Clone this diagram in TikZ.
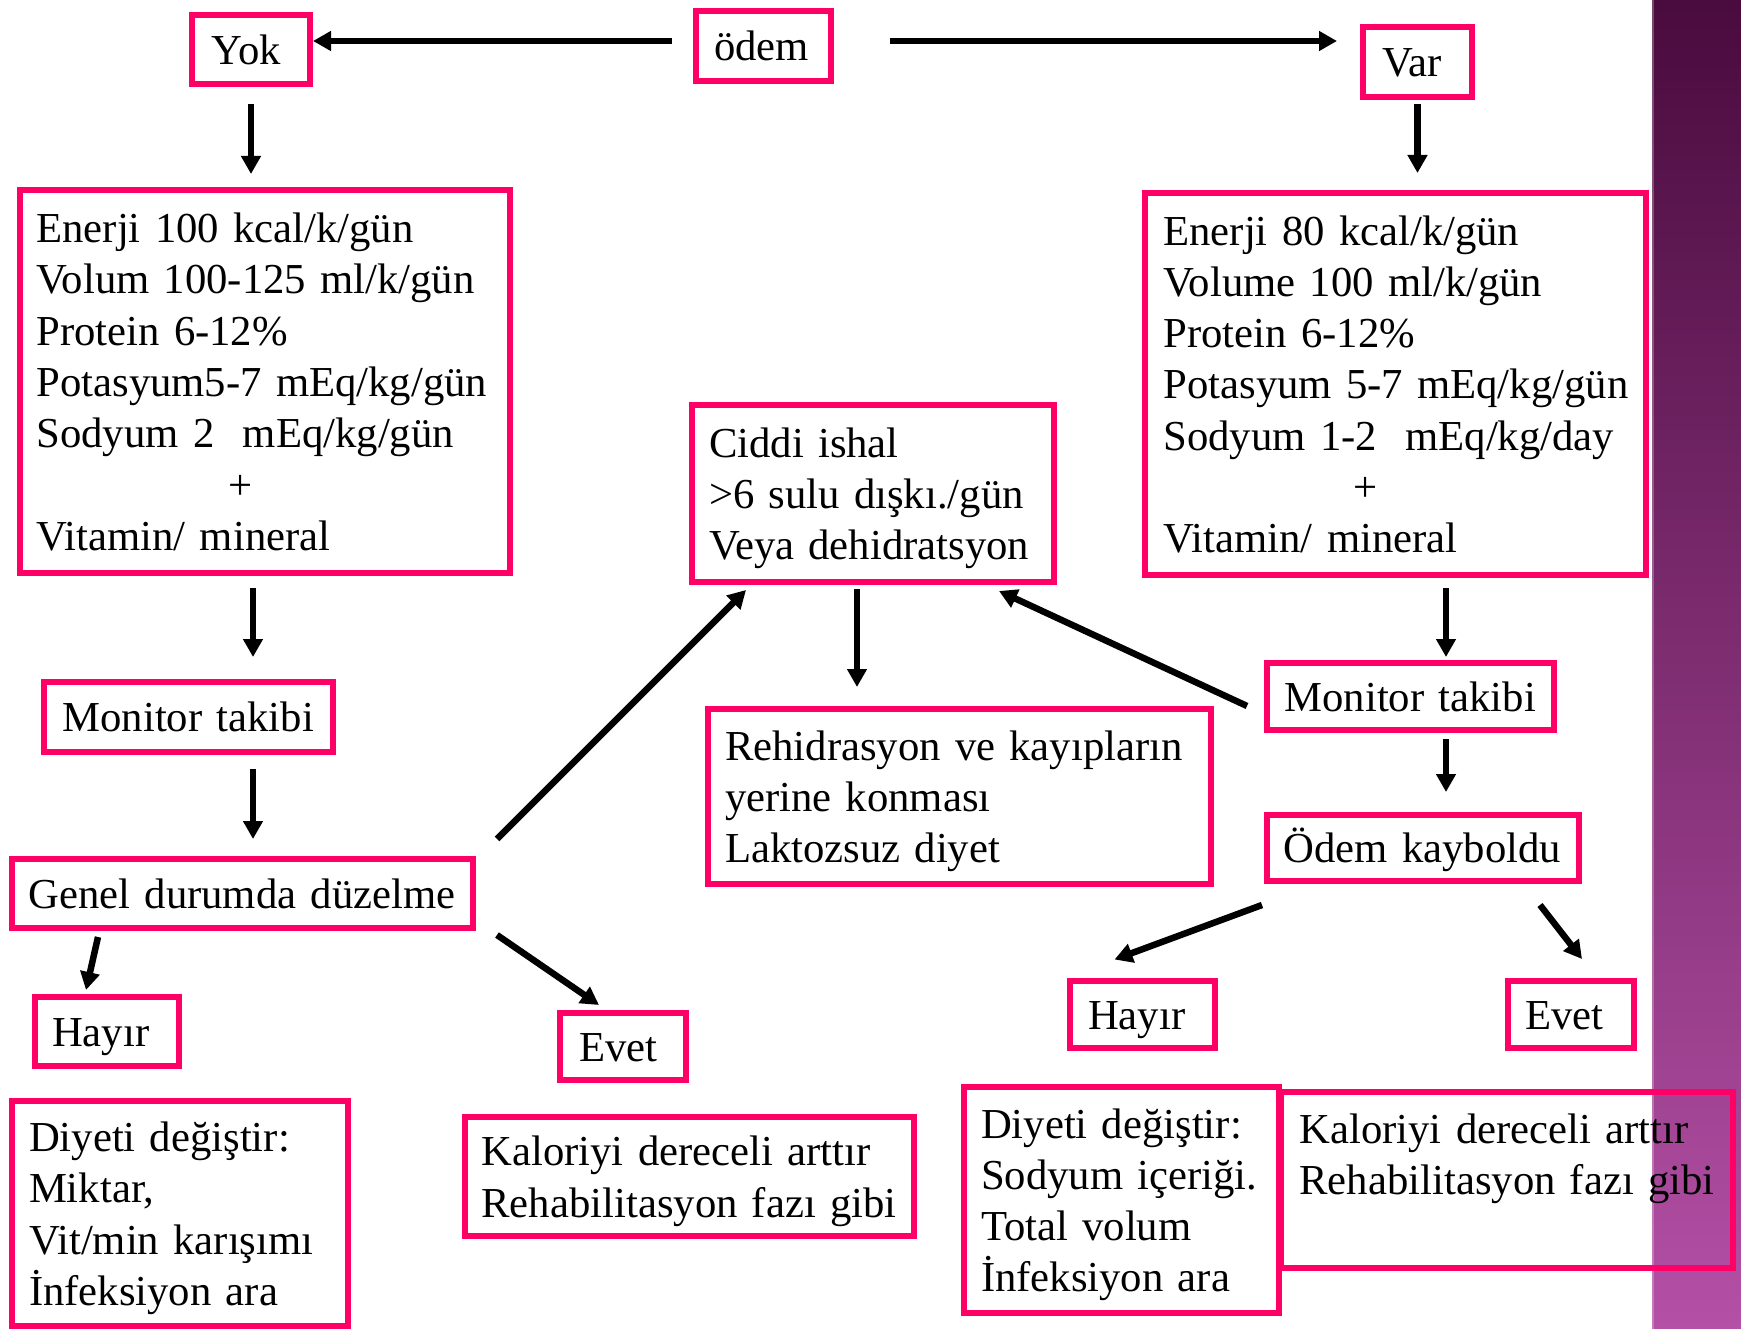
\documentclass[tikz,border=0pt]{standalone}
\usepackage{fontspec}
\setmainfont{Liberation Serif}[WordSpace=0.8]
\usetikzlibrary{calc,arrows.meta}
\definecolor{pinkb}{RGB}{255,0,102}
\definecolor{bandtop}{RGB}{74,11,62}
\definecolor{bandmid}{RGB}{126,44,110}
\definecolor{bandbot}{RGB}{180,80,166}
\newcommand{\myline}[1]{\mbox{\rule[-10.7pt]{0pt}{51.3pt}#1}}
\begin{document}
\begin{tikzpicture}[x=1pt,y=-1pt,
  box/.style={draw=pinkb, line width=6pt, rectangle, inner ysep=0pt, align=left,
    font=\fontsize{42.7}{51.3}\selectfont},
  bx/.style n args={4}{box, minimum width=#1pt, minimum height=#2pt, inner xsep=#3pt, text width=#4pt},
  arr/.style={draw=black, line width=6.5pt, -{Triangle[length=18pt,width=19pt]}}]
\fill[white] (0,0) rectangle (1741,1329);
\useasboundingbox (0,0) rectangle (1741,1329);
\shade[top color=bandtop, middle color=bandmid, bottom color=bandbot] (1652,0) rectangle (1741,1329);
\draw[white, opacity=0.25, line width=1.5pt] (1653,0) -- (1653,1329);

% boxes
\node[bx={118}{69}{19.5}{79}] (yok) at (251,49.5) {\myline{Yok}};
\node[bx={135}{70}{18}{99}] (odem) at (763.5,46) {\myline{ödem}};
\node[bx={109}{70}{19}{71}] (var) at (1417.5,62) {\myline{Var}};
\node[bx={490}{383}{16.5}{457}] (leftbig) at (265,381.5) {%
  \myline{Enerji 100 kcal/k/gün}\\
  \myline{Volum 100-125 ml/k/gün}\\
  \myline{Protein 6-12\%}\\
  \myline{Potasyum5-7 mEq/kg/gün}\\
  \myline{Sodyum 2\ \ mEq/kg/gün}\\
  \myline{\hspace*{192pt}+}\\
  \myline{Vitamin/ mineral}};
\node[bx={501}{382}{18.5}{464}] (rightbig) at (1395.5,384) {%
  \myline{Enerji 80 kcal/k/gün}\\
  \myline{Volume 100 ml/k/gün}\\
  \myline{Protein 6-12\%}\\
  \myline{Potasyum 5-7 mEq/kg/gün}\\
  \myline{Sodyum 1-2\ \ mEq/kg/day}\\
  \myline{\hspace*{190pt}+}\\
  \myline{Vitamin/ mineral}};
\node[bx={289}{70}{18.5}{252}] (monL) at (188.5,717) {\myline{Monitor takibi}};
\node[bx={461}{69}{16.5}{428}] (genel) at (242.5,893.5) {\myline{Genel durumda düzelme}};
\node[bx={144}{69}{17}{110}] (hayL) at (107,1031.5) {\myline{Hayır}};
\node[bx={126}{67}{19.5}{87}] (evetL) at (623,1046.5) {\myline{Evet}};
\node[bx={336}{225}{17}{302}] (diyL) at (180,1213.5) {%
  \myline{Diyeti değiştir:}\\
  \myline{Miktar,}\\
  \myline{Vit/min karışımı}\\
  \myline{İnfeksiyon ara}};
\node[bx={449}{119}{16.5}{416}] (kalL) at (689.5,1176.5) {%
  \myline{Kaloriyi dereceli arttır}\\
  \myline{Rehabilitasyon fazı gibi}};
\node[bx={362}{177}{17}{328}] (ciddi) at (873,493.5) {%
  \myline{Ciddi ishal}\\
  \myline{>6 sulu dışkı./gün}\\
  \myline{Veya dehidratsyon}};
\node[bx={503}{175}{17}{469}] (rehid) at (959.5,796.5) {%
  \myline{Rehidrasyon ve kayıpların}\\
  \myline{yerine konması}\\
  \myline{Laktozsuz diyet}};
\node[bx={287}{67}{17.5}{252}] (monR) at (1410.5,696.5) {\myline{Monitor takibi}};
\node[bx={312}{66}{16.5}{279}] (odemK) at (1423,848) {\myline{Ödem kayboldu}};
\node[bx={145}{67}{18}{109}] (hayR) at (1142.5,1014.5) {\myline{Hayır}};
\node[bx={126}{67}{17.5}{91}] (evetR) at (1571,1014.5) {\myline{Evet}};
\node[bx={315}{226}{17}{281}] (diyR) at (1121.5,1200) {%
  \myline{Diyeti değiştir:}\\
  \myline{Sodyum içeriği.}\\
  \myline{Total volum}\\
  \myline{İnfeksiyon ara}};
\node[bx={452}{176}{18.5}{415}] (kalR) at (1507,1180) {%
  \myline{Kaloriyi dereceli arttır}\\
  \myline{Rehabilitasyon fazı gibi}\\
  \myline{}};

% connectors
\coordinate (o1) at ($(odem.west)+(-21,-5)$);
\draw[arr] (o1) -- (o1 -| yok.east);
\coordinate (o2) at ($(odem.east)+(56,-5)$);
\draw[arr, shorten >=23pt] (o2) -- (o2 -| var.west);
\draw[arr, shorten <=17pt, shorten >=13pt] (yok.south) -- (yok.south |- leftbig.north);
\draw[arr, shorten <=4pt, shorten >=17pt] (var.south) -- (var.south |- rightbig.north);
\coordinate (l1) at ($(leftbig.south)+(-12,12)$);
\draw[arr, shorten >=22pt] (l1) -- (l1 |- monL.north);
\coordinate (m1) at ($(monL.south)+(64.5,14)$);
\draw[arr, shorten >=17pt] (m1) -- (m1 |- genel.north);
\draw[arr] ($(genel.south west)+(89,6)$) -- ($(hayL.north)+(-21,-4)$);
\draw[arr] ($(genel.south east)+(21,4)$) -- ($(evetL.north)+(-24,-5)$);
\draw[arr] ($(genel.north east)+(21,-17)$) -- ($(ciddi.south west)+(57,5)$);
\coordinate (c1) at ($(ciddi.south)+(-16,4)$);
\draw[arr, shorten >=19pt] (c1) -- (c1 |- rehid.north);
\coordinate (r1) at ($(rightbig.south)+(50.5,10)$);
\draw[arr, shorten >=3pt] (r1) -- (r1 |- monR.north);
\draw[arr] ($(monR.west)+(-17,9.5)$) -- ($(ciddi.south east)+(-58,6)$);
\coordinate (r2) at ($(monR.south)+(35.5,6)$);
\draw[arr, shorten >=20pt] (r2) -- (r2 |- odemK.north);
\draw[arr] ($(odemK.south west)+(-2,21)$) -- ($(hayR.north)+(-28,-18.5)$);
\draw[arr] ($(odemK.south east)+(-42,21)$) -- ($(evetR.north)+(11,-19)$);
\end{tikzpicture}
\end{document}
